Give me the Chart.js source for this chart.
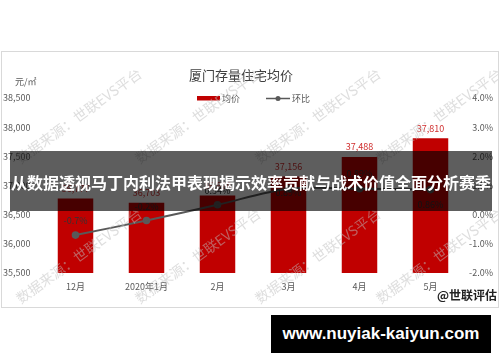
<!DOCTYPE html>
<html>
<head>
<meta charset="utf-8">
<script src="https://cdn.jsdelivr.net/npm/chart.js@4.4.0/dist/chart.umd.min.js"></script>
<style>
html, body { margin: 0; padding: 0; background: #fff; }
#wrap { position: relative; width: 500px; height: 362px; }
#banner {
    position: absolute; left: 10px; top: 151px; width: 482px; height: 60px;
    background: rgba(0, 0, 0, 0.63); color: #fff;
    font: bold 16px "Noto Sans CJK SC", sans-serif; line-height: 63px;
    text-align: center; white-space: nowrap;
}
#site {
    position: absolute; left: 271px; top: 315px; width: 220px; height: 38px;
    background: #000; color: #fff;
    font: bold 17px "Liberation Sans", sans-serif; line-height: 38px;
    text-align: center; white-space: nowrap;
}
</style>
</head>
<body>
<div id="wrap">
    <canvas id="priceChart" width="500" height="362"></canvas>
    <div id="banner">从数据透视马丁内利法甲表现揭示效率贡献与战术价值全面分析赛季</div>
    <div id="site">www.nuyiak-kaiyun.com</div>
</div>
<script>
const months = ['12月', '2020年1月', '2月', '3月', '4月', '5月'];
const avgPrice = [36777, 36703, 36828, 37156, 37488, 37810];
const momChange = [-0.7, -0.2, 0.34, 0.89, 0.89, 0.86];

const FONT = '"Noto Sans CJK SC", "Liberation Sans", sans-serif';
const GREY = '#595959';

// labels over bars and line points
const valueLabels = {
    id: 'valueLabels',
    afterDatasetsDraw(chart, args, opts) {
        const ctx = chart.ctx;
        ctx.save();
        ctx.font = '9px ' + FONT;
        ctx.textAlign = 'center';
        ctx.textBaseline = 'middle';
        ctx.fillStyle = '#d03030';
        chart.getDatasetMeta(0).data.forEach(function(el, i) {
            ctx.fillText(avgPrice[i].toLocaleString('en-US'), el.x, el.y - 10);
        });
        ctx.fillStyle = '#333';
        chart.getDatasetMeta(1).data.forEach(function(el, i) {
            ctx.fillText(momChange[i] + '%', el.x, el.y + opts.offsets[i]);
        });
        ctx.restore();
    }
};

// frame, title, legend, unit, watermark
const decor = {
    id: 'decor',
    beforeDraw(chart) {
        const ctx = chart.ctx;
        ctx.save();
        ctx.strokeStyle = '#d9d9d9';
        ctx.lineWidth = 1;
        ctx.strokeRect(1.5, 51.5, 497, 256);
        ctx.restore();
    },
    afterDraw(chart) {
        const ctx = chart.ctx;
        const ds = chart.data.datasets;
        ctx.save();

        ctx.fillStyle = '#404040';
        ctx.font = '13px ' + FONT;
        ctx.textAlign = 'center';
        ctx.textBaseline = 'middle';
        ctx.fillText('厦门存量住宅均价', 241, 75);

        ctx.font = '9px ' + FONT;
        ctx.textAlign = 'left';
        ctx.fillStyle = GREY;
        ctx.fillText('元/㎡', 15, 82);

        // legend
        ctx.fillStyle = ds[0].backgroundColor;
        ctx.fillRect(197, 96, 23, 4.5);
        ctx.fillStyle = GREY;
        ctx.fillText(ds[0].label, 222, 98.5);
        ctx.strokeStyle = ds[1].borderColor;
        ctx.lineWidth = 1.5;
        ctx.beginPath();
        ctx.moveTo(266, 98.5);
        ctx.lineTo(290, 98.5);
        ctx.stroke();
        ctx.fillStyle = ds[1].borderColor;
        ctx.beginPath();
        ctx.arc(278, 98.5, 2.5, 0, Math.PI * 2);
        ctx.fill();
        ctx.fillStyle = GREY;
        ctx.fillText(ds[1].label, 292, 98.5);

        ctx.fillStyle = '#222';
        ctx.font = 'bold 12px ' + FONT;
        ctx.textAlign = 'right';
        ctx.fillText('@世联评估', 497, 295);

        // watermark
        ctx.beginPath();
        ctx.rect(2, 52, 496, 255);
        ctx.clip();
        ctx.font = '14px ' + FONT;
        ctx.textAlign = 'left';
        ctx.fillStyle = 'rgba(190,190,190,0.5)';
        [160, 300].forEach(function(y) {
            [18, 137, 257, 378].forEach(function(x) {
                ctx.save();
                ctx.translate(x, y);
                ctx.rotate(-0.627);
                ctx.fillText('数据来源：世联EVS平台', 0, 0);
                ctx.restore();
            });
        });
        ctx.restore();
    }
};

new Chart(document.getElementById('priceChart'), {
    data: {
        labels: months,
        datasets: [{
            type: 'bar',
            label: '均价',
            data: avgPrice,
            yAxisID: 'y',
            backgroundColor: '#c00000',
            categoryPercentage: 1,
            barPercentage: 0.5,
            order: 1
        }, {
            type: 'line',
            label: '环比',
            data: momChange,
            yAxisID: 'y1',
            borderColor: GREY,
            backgroundColor: GREY,
            borderWidth: 2,
            pointRadius: 2.8,
            pointBackgroundColor: GREY,
            tension: 0.3,
            order: 0
        }]
    },
    options: {
        responsive: false,
        animation: false,
        devicePixelRatio: 1,
        layout: { padding: { left: 3, right: 7, top: 98, bottom: 67 } },
        plugins: {
            legend: { display: false },
            tooltip: { enabled: false },
            valueLabels: { offsets: [-15, -14, -14, 4, -15, 15] }
        },
        scales: {
            x: {
                offset: true,
                grid: { display: false, drawTicks: false },
                border: { display: false },
                ticks: { color: GREY, font: { size: 9, family: FONT }, padding: 8, maxRotation: 0 },
                afterFit: function(s) { s.height = 22; }
            },
            y: {
                position: 'left',
                min: 35500,
                max: 38500,
                grid: { display: false, drawTicks: false },
                border: { display: false },
                ticks: {
                    stepSize: 500,
                    color: GREY,
                    crossAlign: 'far',
                    font: { size: 9, family: FONT },
                    callback: function(v) { return v.toLocaleString('en-US'); }
                },
                afterFit: function(s) { s.width = 37; }
            },
            y1: {
                position: 'right',
                min: -2,
                max: 4,
                grid: { display: false, drawTicks: false },
                border: { display: false },
                ticks: {
                    stepSize: 1,
                    color: GREY,
                    crossAlign: 'far',
                    font: { size: 9, family: FONT },
                    callback: function(v) { return v.toFixed(1) + '%'; }
                },
                afterFit: function(s) { s.width = 27; }
            }
        }
    },
    plugins: [valueLabels, decor]
});
</script>
</body>
</html>
